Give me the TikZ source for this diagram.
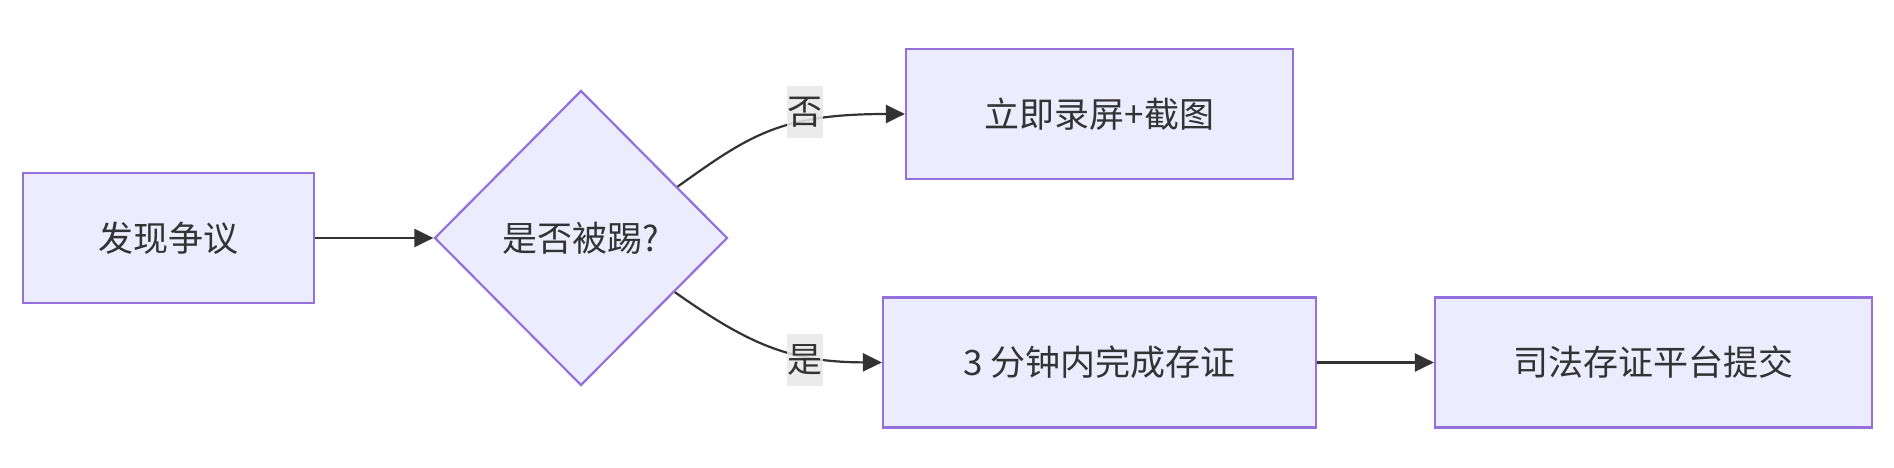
\documentclass[tikz,border=0pt]{standalone}
\usepackage{fontspec}
\setmainfont{Noto Sans CJK SC}
\usetikzlibrary{shapes.geometric,arrows.meta}
\definecolor{nodefill}{HTML}{ECECFF}
\definecolor{nodeline}{HTML}{9370DB}
\definecolor{edgeline}{HTML}{333333}
\definecolor{labelbg}{HTML}{E8E8E8}
\definecolor{txt}{HTML}{333333}
\begin{document}
\begin{tikzpicture}[x=1pt,y=-1pt,
  every node/.style={font=\fontsize{35}{42}\selectfont, text=txt},
  box/.style={draw=nodeline, fill=nodefill, line width=2.2pt, rectangle, minimum height=130pt, inner sep=0pt},
  decision/.style={draw=nodeline, fill=nodefill, line width=2.2pt, diamond, aspect=1, minimum width=293pt, minimum height=295pt, inner sep=0pt},
  edge/.style={draw=edgeline, line width=2.2pt, -{Triangle[length=19pt,width=18pt]}},
  elabel/.style={fill=labelbg, fill opacity=0.85, text opacity=1, minimum width=36pt, minimum height=52pt, inner sep=0pt}]
\useasboundingbox (0,0) rectangle (1894,468);
\node[box, minimum width=291pt] (a) at (168.5,238) {发现争议};
\node[decision] (b) at (581,238) {是否被踢?};
\node[box, minimum width=387pt] (c) at (1099.5,114) {立即录屏+截图};
\node[box, minimum width=433pt] (d) at (1099.5,362.5) {3 分钟内完成存证};
\node[box, minimum width=437pt] (e) at (1653.5,362.5) {司法存证平台提交};
\draw[edge] (a.east) -- (b.west);
\draw[edge] (b.28) .. controls (750,135) and (780,114) .. (c.west);
\draw[edge] (b.-30) .. controls (750,345) and (790,362) .. (d.west);
\draw[edge] (d.east) -- (e.west);
\node[elabel] (l1) at (805,112) {否};
\node[elabel] (l2) at (805,360) {是};
\end{tikzpicture}
\end{document}
